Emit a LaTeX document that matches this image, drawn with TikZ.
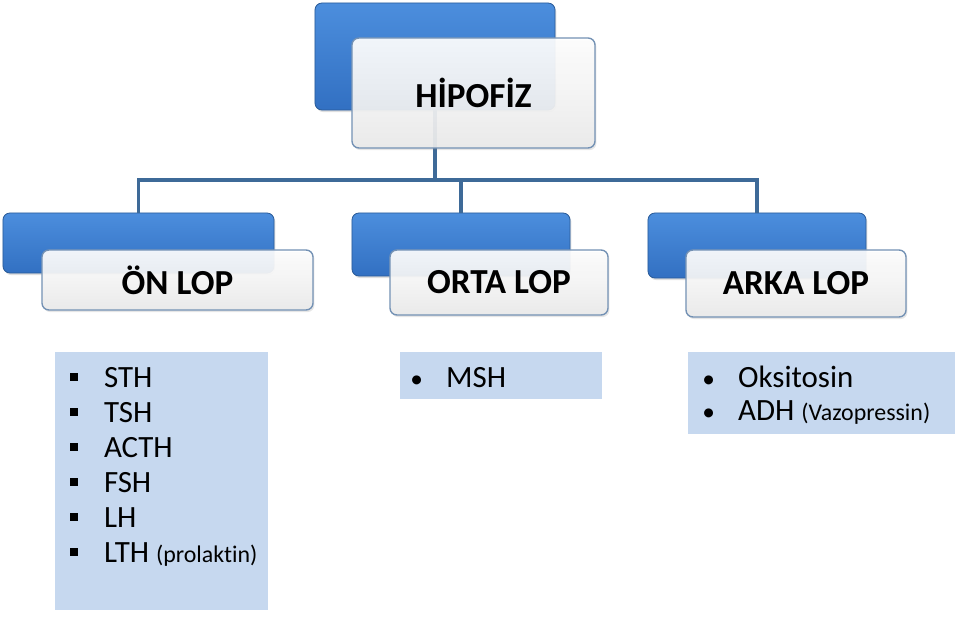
\documentclass[tikz,border=0pt]{standalone}
\usepackage{fontspec}
\setmainfont{Carlito}[Ligatures=NoCommon]
\usetikzlibrary{positioning, calc, shadows}

\definecolor{maviust}{HTML}{4C8EDD}
\definecolor{mavialt}{HTML}{3270C2}
\definecolor{mavikenar}{HTML}{2B5C99}
\definecolor{beyazkenar}{HTML}{7391B4}
\definecolor{kolrenk}{HTML}{3E6A98}
\definecolor{listerenk}{HTML}{C6D8EF}

\newcommand{\kare}{\makebox[24pt][l]{\rule[4.3pt]{5.7pt}{5.7pt}}}
\newcommand{\nokta}{\makebox[25.5pt][l]{\fontsize{18}{18}\selectfont\textbullet}}

\begin{document}
\begin{tikzpicture}[x=0.025cm, y=-0.025cm,
    maviKutu/.style={draw=mavikenar, line width=0.6pt, rounded corners=5pt,
      top color=maviust, bottom color=mavialt,
      drop shadow={opacity=0.25, shadow xshift=1pt, shadow yshift=-1.5pt}},
    beyazKutu/.style={draw=beyazkenar, line width=1pt, rounded corners=5pt,
      top color=white, bottom color=black!8, fill opacity=0.92, text opacity=1,
      font=\fontsize{25}{30}\selectfont\bfseries,
      drop shadow={opacity=0.2, shadow xshift=1pt, shadow yshift=-1.5pt}},
    kol/.style={draw=kolrenk, line width=2.3pt},
    liste/.style={fill=listerenk, inner sep=0pt, anchor=north west},
    madde/.style={anchor=base west, inner sep=0pt, font=\fontsize{22}{26}\selectfont}]
  \useasboundingbox (0,0) rectangle (959,617);

  % mavi arka kutular
  \node[maviKutu, minimum width=6cm, minimum height=2.675cm] (hip-mavi) at (435,56.5) {};
  \node[maviKutu, minimum width=6.775cm, minimum height=1.5cm] (on-mavi) at (138.5,243) {};
  \node[maviKutu, minimum width=5.45cm, minimum height=1.575cm] (orta-mavi) at (461,244.5) {};
  \node[maviKutu, minimum width=5.45cm, minimum height=1.625cm] (arka-mavi) at (757,245.5) {};

  % baglanti cizgileri
  \coordinate (kavsak) at (435,180);
  \draw[kol] (hip-mavi.south) -- (kavsak);
  \draw[kol] (on-mavi.north) |- (kavsak) -| (arka-mavi.north);
  \draw[kol] (orta-mavi.north) -- (orta-mavi.north |- kavsak);

  % beyaz on kutular
  \node[beyazKutu, minimum width=6.075cm, minimum height=2.75cm] (hip-beyaz) at (473.5,93) {HİPOFİZ};
  \node[beyazKutu, minimum width=6.775cm, minimum height=1.5cm] (on-beyaz) at (177.5,280) {ÖN LOP};
  \node[beyazKutu, minimum width=5.45cm, minimum height=1.625cm] (orta-beyaz) at (499,282.5) {ORTA LOP};
  \node[beyazKutu, minimum width=5.5cm, minimum height=1.675cm] (arka-beyaz) at (796,283.5) {ARKA LOP};

  % hormon listeleri
  \node[liste, minimum width=5.325cm, minimum height=6.45cm] (on-liste) at (55,352) {};
  \node[liste, minimum width=5.05cm, minimum height=1.175cm] (orta-liste) at (400,352) {};
  \node[liste, minimum width=6.675cm, minimum height=2.05cm] (arka-liste) at (688,352) {};

  \foreach \h [count=\i from 0] in {STH,TSH,ACTH,FSH,LH}
    \node[madde] (on-\i) at (70,387+35*\i) {\kare\h};
  \node[madde] (on-5) at (70,562) {\kare LTH {\fontsize{17}{19}\selectfont(prolaktin)}};

  \node[madde] (orta-0) at (410,387) {\nokta MSH};

  \node[madde] (arka-0) at (702,387) {\nokta Oksitosin};
  \node[madde] (arka-1) at (702,420) {\nokta ADH {\fontsize{17}{19}\selectfont(Vazopressin)}};
\end{tikzpicture}
\end{document}
